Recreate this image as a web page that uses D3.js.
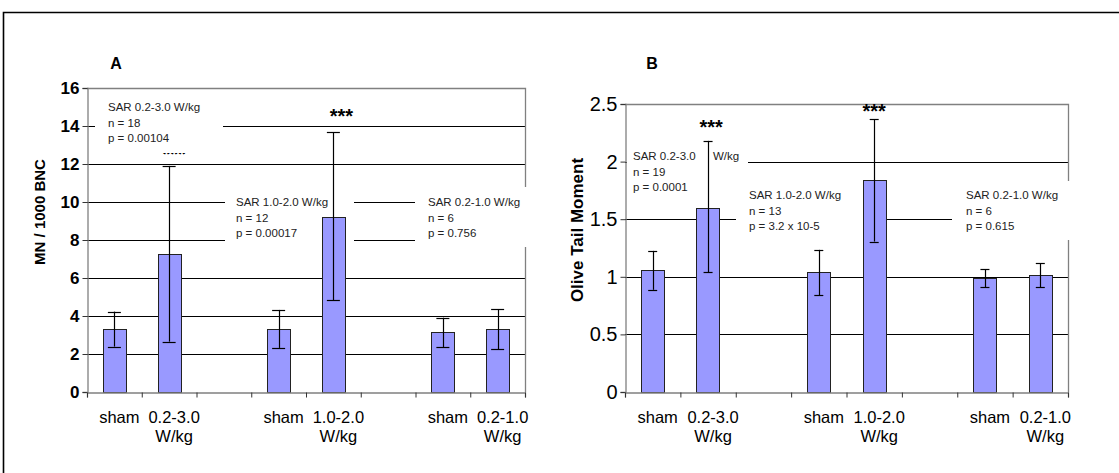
<!DOCTYPE html>
<html><head><meta charset="utf-8">
<script src="https://cdn.jsdelivr.net/npm/d3@7"></script>
<style>
body{margin:0;background:#fff}
svg{display:block}
text{font-family:"Liberation Sans",Arial,Helvetica,sans-serif}
</style>
</head><body>
<svg id="chart" width="1119" height="473"></svg>
<script>
// ---------- data ----------
const categories = ["sham", "0.2-3.0 W/kg", "", "sham", "1.0-2.0 W/kg", "", "sham", "0.2-1.0 W/kg"];

const mnMean = [3.30, 7.26, null, 3.33, 9.21, null, 3.18, 3.33];
const mnLow  = [2.39, 2.65, null, 2.32, 4.84, null, 2.37, 2.26];
const mnHigh = [4.23, 11.90, null, 4.32, 13.67, null, 3.91, 4.37];
const mnTicks = [0, 2, 4, 6, 8, 10, 12, 14, 16];

const otmMean = [1.055, 1.60, null, 1.04, 1.84, null, 0.986, 1.017];
const otmLow  = [0.887, 1.038, null, 0.84, 1.306, null, 0.91, 0.91];
const otmHigh = [1.225, 2.18, null, 1.234, 2.37, null, 1.066, 1.12];
const otmTicks = [0, 0.5, 1, 1.5, 2, 2.5];

const mnNotes = [
  ["SAR 0.2-3.0 W/kg", "n = 18", "p = 0.00104"],
  ["SAR 1.0-2.0 W/kg", "n = 12", "p = 0.00017"],
  ["SAR 0.2-1.0 W/kg", "n = 6", "p = 0.756"]
];
const otmNotes = [
  ["SAR 0.2-3.0|W/kg", "n = 19", "p = 0.0001"],
  ["SAR 1.0-2.0 W/kg", "n = 13", "p = 3.2 x 10-5"],
  ["SAR 0.2-1.0 W/kg", "n = 6", "p = 0.615"]
];
const starBars = [1, 4];
const starText = "***";

// ---------- layout ----------
const svg = d3.select("#chart");
const FONT = '"Liberation Sans",Arial,Helvetica,sans-serif';

// outer frame
svg.append("path").attr("d", "M3.5,473 V12.5 H1119")
  .attr("fill", "none").attr("stroke", "#000").attr("stroke-width", 1.6);

const panels = [
  {
    letter: "A", letterX: 116, letterY: 69,
    x0: 87, x1: 525, yTop: 88, yBot: 392, max: 16,
    mean: mnMean, low: mnLow, high: mnHigh, ticks: mnTicks,
    tickFont: 17, tickBold: true, tickFmt: d => d,
    cap: 13,
    title: "MN / 1000 BNC", titleX: 40, titleY: 212, titleSize: 15,
    notes: mnNotes,
    boxes: [
      {x: 95, y: 93, w: 128, h: 60, tx: 108, ty: 111},
      {x: 225, y: 188, w: 129, h: 60, tx: 236, ty: 206},
      {x: 415, y: 187, w: 122, h: 60, tx: 428, ty: 206}
    ],
    stars: [{dx: 5, y: 161}, {dx: 8, y: 123}],
    labelY: 423
  },
  {
    letter: "B", letterX: 652, letterY: 69,
    x0: 625, x1: 1068, yTop: 104, yBot: 392, max: 2.5,
    mean: otmMean, low: otmLow, high: otmHigh, ticks: otmTicks,
    tickFont: 20, tickBold: false, tickFmt: d => d,
    cap: 9,
    title: "Olive Tail Moment", titleX: 577, titleY: 230, titleSize: 17,
    notes: otmNotes,
    boxes: [
      {x: 627, y: 145, w: 121, h: 50, tx: 633, ty: 160},
      {x: 736, y: 181, w: 129, h: 59, tx: 749, ty: 199},
      {x: 952, y: 181, w: 125, h: 59, tx: 966, ty: 199}
    ],
    stars: [{dx: 3, y: 134}, {dx: 0, y: 118}],
    labelY: 423
  }
];

panels.forEach(p => {
  const g = svg.append("g");
  const y = d3.scaleLinear().domain([0, p.max]).range([p.yBot, p.yTop]);
  const xb = d3.scaleBand().domain(d3.range(categories.length)).range([p.x0, p.x1]).padding(0);
  const xt = d3.scaleLinear().domain([0, categories.length]).range([p.x0, p.x1]);
  const bw = xb.bandwidth() * 0.42;
  const cx = i => xb(i) + xb.bandwidth() / 2;

  // gridlines
  g.selectAll(".grid").data(p.ticks.filter(t => t > 0 && t < p.max)).join("line")
    .attr("x1", p.x0).attr("x2", p.x1)
    .attr("y1", d => Math.round(y(d)) + 0.5).attr("y2", d => Math.round(y(d)) + 0.5)
    .attr("stroke", "#000").attr("stroke-width", 1);

  // plot border top + right
  g.append("path")
    .attr("d", `M${p.x0},${p.yTop + 0.5} H${p.x1 + 0.5} V${p.yBot}`)
    .attr("fill", "none").attr("stroke", "#808080").attr("stroke-width", 1.3);

  // stars
  starBars.forEach((bi, k) => {
    g.append("text").attr("x", cx(bi) + p.stars[k].dx).attr("y", p.stars[k].y)
      .attr("text-anchor", "middle").attr("font-size", 20).attr("font-weight", "bold")
      .attr("fill", "#000").text(starText);
  });

  // annotation boxes
  p.boxes.forEach((b, k) => {
    g.append("rect").attr("x", b.x).attr("y", b.y).attr("width", b.w).attr("height", b.h).attr("fill", "#fff");
    p.notes[k].forEach((line, li) => {
      const parts = line.split("|");
      g.append("text").attr("x", b.tx).attr("y", b.ty + li * 15.5)
        .attr("font-size", 11.5).attr("fill", "#222").text(parts[0]);
      if (parts.length > 1) {
        g.append("text").attr("x", b.tx + 80).attr("y", b.ty + li * 15.5)
          .attr("font-size", 11.5).attr("fill", "#222").text(parts[1]);
      }
    });
  });

  const idx = d3.range(categories.length).filter(i => p.mean[i] != null);

  // bars
  g.selectAll(".bar").data(idx).join("rect")
    .attr("x", i => Math.round(cx(i) - bw / 2) + 0.5)
    .attr("y", i => Math.round(y(p.mean[i])) + 0.5)
    .attr("width", Math.round(bw))
    .attr("height", i => Math.round(y(0)) - Math.round(y(p.mean[i])))
    .attr("fill", "#9999ff").attr("stroke", "#222").attr("stroke-width", 1);

  // error bars
  const eb = g.selectAll(".eb").data(idx).join("g");
  eb.append("line")
    .attr("x1", i => Math.round(cx(i)) + 0.5).attr("x2", i => Math.round(cx(i)) + 0.5)
    .attr("y1", i => y(p.low[i])).attr("y2", i => y(p.high[i]))
    .attr("stroke", "#000").attr("stroke-width", 1.2);
  eb.append("line")
    .attr("x1", i => cx(i) - p.cap / 2).attr("x2", i => cx(i) + p.cap / 2)
    .attr("y1", i => Math.round(y(p.high[i])) + 0.5).attr("y2", i => Math.round(y(p.high[i])) + 0.5)
    .attr("stroke", "#000").attr("stroke-width", 1.2);
  eb.append("line")
    .attr("x1", i => cx(i) - p.cap / 2).attr("x2", i => cx(i) + p.cap / 2)
    .attr("y1", i => Math.round(y(p.low[i])) + 0.5).attr("y2", i => Math.round(y(p.low[i])) + 0.5)
    .attr("stroke", "#000").attr("stroke-width", 1.2);

  // y axis
  const yAxis = g.append("g").attr("transform", `translate(${p.x0 + 0.5},0)`)
    .call(d3.axisLeft(y).tickValues(p.ticks).tickSize(5).tickPadding(3).tickFormat(p.tickFmt));
  yAxis.select(".domain").attr("stroke", "#808080").attr("stroke-width", 1.3);
  yAxis.selectAll(".tick line").attr("stroke", "#333");
  yAxis.selectAll(".tick text").attr("font-family", FONT).attr("font-size", p.tickFont)
    .attr("font-weight", p.tickBold ? "bold" : "normal").attr("fill", "#000");

  // x axis
  const xAxis = g.append("g").attr("transform", `translate(0,${p.yBot + 0.5})`)
    .call(d3.axisBottom(xt).tickValues(d3.range(categories.length + 1)).tickSize(5).tickFormat(""));
  xAxis.select(".domain").attr("stroke", "#808080").attr("stroke-width", 1.3);
  xAxis.selectAll(".tick line").attr("stroke", "#333");

  // category labels
  categories.forEach((c, i) => {
    if (!c) return;
    const words = c === "sham" ? ["sham"] : [c.split(" ")[0], c.split(" ")[1]];
    words.forEach((w, li) => {
      g.append("text").attr("x", cx(i) + 5).attr("y", p.labelY + li * 19)
        .attr("text-anchor", "middle").attr("font-size", 16.5).attr("fill", "#000").text(w);
    });
  });

  // axis title
  g.append("text").attr("transform", `translate(${p.titleX},${p.titleY}) rotate(-90)`)
    .attr("text-anchor", "middle").attr("dy", "0.35em")
    .attr("font-size", p.titleSize).attr("font-weight", "bold").attr("fill", "#000").text(p.title);

  // panel letter
  g.append("text").attr("x", p.letterX).attr("y", p.letterY).attr("text-anchor", "middle")
    .attr("font-size", 16).attr("font-weight", "bold").attr("fill", "#000").text(p.letter);
});
</script>
</body></html>
